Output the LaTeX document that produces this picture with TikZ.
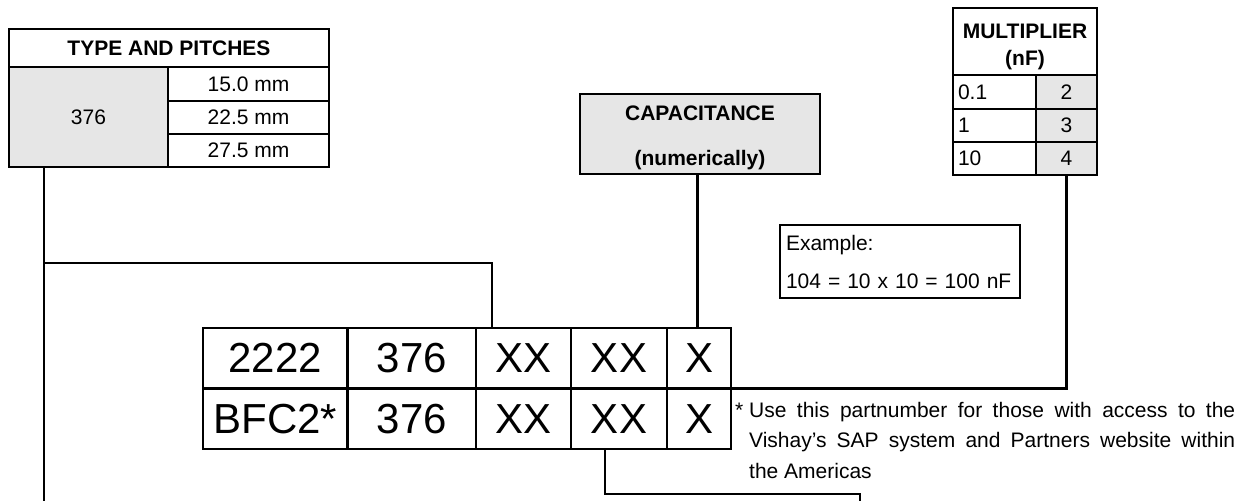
\documentclass[tikz,border=0pt]{standalone}
\usepackage{fontspec}
\setmainfont{Liberation Sans}
\definecolor{cellgray}{HTML}{E6E6E6}
\begin{document}
\begin{tikzpicture}[x=1pt,y=-1pt,
  cell/.style={draw=black, line width=2.2pt, inner sep=0pt, outer sep=0pt, anchor=north west,
    font=\fontsize{21}{25}\selectfont, align=center},
  head/.style={cell, font=\bfseries\fontsize{21}{27}\selectfont},
  grayc/.style={cell, fill=cellgray},
  leftc/.style={cell, text width=73pt, inner xsep=5pt, align=left},
  code/.style={cell, line width=2.5pt, font=\fontsize{42}{48}\selectfont},
  wire/.style={draw=black, line width=2.2pt}]
\useasboundingbox (0,0) rectangle (1251,501);
% TYPE AND PITCHES
\node[head, minimum width=320, minimum height=38] (thead) at (9,29) {TYPE AND PITCHES};
\node[grayc, minimum width=159, minimum height=100] (t376) at (9,67) {376};
\node[cell, minimum width=161, minimum height=34] (tp1) at (168,67) {15.0 mm};
\node[cell, minimum width=161, minimum height=33] (tp2) at (168,101) {22.5 mm};
\node[cell, minimum width=161, minimum height=33] (tp3) at (168,134) {27.5 mm};
% CAPACITANCE
\node[head, fill=cellgray, minimum width=240, minimum height=80] (cap) at (580,94)
  {\rule{0pt}{22pt}CAPACITANCE\\[18pt](numerically)};
% MULTIPLIER
\node[head, minimum width=144, minimum height=67] (mhead) at (953,8)
  {\rule{0pt}{25pt}MULTIPLIER\\(nF)};
\node[leftc, minimum width=83, minimum height=34] (ma1) at (953,75) {0.1};
\node[leftc, minimum width=83, minimum height=33] (ma2) at (953,109) {1};
\node[leftc, minimum width=83, minimum height=33] (ma3) at (953,142) {10};
\node[grayc, minimum width=61, minimum height=34] (mb1) at (1036,75) {2};
\node[grayc, minimum width=61, minimum height=33] (mb2) at (1036,109) {3};
\node[grayc, minimum width=61, minimum height=33] (mb3) at (1036,142) {4};
% Example
\node[cell, font=\fontsize{21}{38}\selectfont, minimum width=240, minimum height=73,
  text width=228pt, inner xsep=6pt, align=left] (ex) at (780,225)
  {Example:\\\mbox{104 = 10 x 10 = 100 nF}};
% code table
\node[code, minimum width=144.5, minimum height=60.5] (c11) at (203,328) {2222};
\node[code, minimum width=128.5, minimum height=60.5] (c12) at (347.5,328) {376};
\node[code, minimum width=95, minimum height=60.5] (c13) at (476,328) {XX};
\node[code, minimum width=96, minimum height=60.5] (c14) at (571,328) {XX};
\node[code, minimum width=64, minimum height=60.5] (c15) at (667,328) {X};
\node[code, minimum width=144.5, minimum height=60.5] (c21) at (203,388.5) {BFC2*};
\node[code, minimum width=128.5, minimum height=60.5] (c22) at (347.5,388.5) {376};
\node[code, minimum width=95, minimum height=60.5] (c23) at (476,388.5) {XX};
\node[code, minimum width=96, minimum height=60.5] (c24) at (571,388.5) {XX};
\node[code, minimum width=64, minimum height=60.5] (c25) at (667,388.5) {X};
% footnote
\node[anchor=north west, inner sep=0pt, text width=486pt, align=justify,
  font=\fontsize{21}{30.5}\selectfont] (note) at (749,402)
  {\llap{*\ }Use this partnumber for those with access to the\linebreak
   Vishay’s SAP system and Partners website within\linebreak the Americas};
% connectors
\coordinate (tdrop) at (44,501);
\coordinate (tknee) at (44,263);
\coordinate (tcol) at (492,263);
\coordinate (capx) at (697.5,0);
\draw[wire] (t376.south -| tdrop) -- (tdrop);
\draw[wire] (tknee) -- (tcol) -- (tcol |- c13.north);
\draw[wire] (cap.south -| capx) -- (c15.north -| capx);
\draw[wire] (mb3.south) |- (c15.south east);
\coordinate (bk1) at (605,494);
\coordinate (bk2) at (860,494);
\coordinate (bk3) at (860,501);
\draw[wire] (c24.south -| bk1) -- (bk1) -- (bk2) -- (bk3);
\end{tikzpicture}
\end{document}
